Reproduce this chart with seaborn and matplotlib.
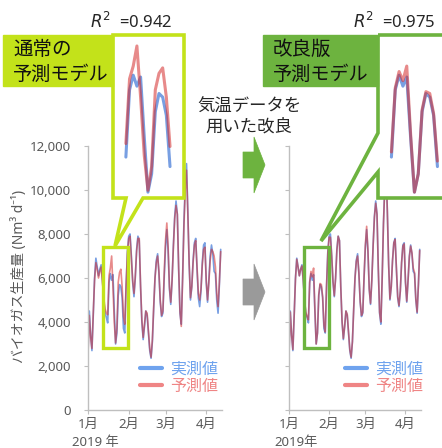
import matplotlib
matplotlib.use("Agg")
import matplotlib.pyplot as plt
from matplotlib.patches import Polygon, Rectangle
from matplotlib.lines import Line2D
import pandas as pd
import seaborn as sns

# ---- data: daily biogas production, 2019-01-01 .. 2019-04-12 (Nm3/d) ----
days = list(range(102))
measured = [
    2600, 4500, 3400, 2700, 4300, 6000, 6900, 6500, 6100, 6400,
    6600, 5900, 5000, 4400, 4200, 3960, 5800, 6200, 5900, 6150,
    4500, 3000, 3500, 5200, 5700, 5600, 5100, 3700, 3500, 5600,
    7200, 7900, 8000, 7000, 5800, 5150, 6000, 7300, 7900, 7700,
    5600, 4000, 3200, 3800, 4500, 4300, 3500, 2700, 2350, 3100,
    4600, 6000, 6800, 7100, 6200, 4900, 4250, 4400, 6000, 7400,
    8200, 7200, 5500, 4800, 5900, 7500, 8800, 9500, 8900, 6400,
    4400, 3900, 6000, 8500, 10200, 11200, 9000, 6600, 5000, 5600,
    6800, 7600, 7800, 6400, 5100, 4700, 5400, 6700, 7500, 7600,
    5800, 4900, 5900, 7000, 7500, 7100, 6300, 6200, 5000, 4400,
    5700, 7300,
]
pred_standard = [
    2500, 4300, 3300, 2800, 4400, 5900, 6700, 6400, 6000, 6300,
    6500, 5800, 5100, 4600, 4400, 4330, 6100, 6450, 7000, 5600,
    4000, 3050, 3700, 5800, 6250, 6400, 5600, 4250, 3900, 5700,
    7100, 7800, 7900, 6900, 5900, 5300, 6100, 7200, 7800, 7800,
    5700, 4100, 3300, 3900, 4500, 4400, 3600, 2800, 2400, 3200,
    4700, 6000, 6700, 7000, 6300, 5000, 4300, 4500, 6200, 7700,
    8500, 7400, 5600, 4900, 5900, 7400, 8700, 9300, 8900, 6500,
    4500, 3800, 5900, 8300, 10000, 10900, 8900, 6700, 5100, 5600,
    6700, 7500, 7700, 6500, 5300, 5000, 5500, 6600, 7300, 7400,
    5900, 5000, 5800, 6800, 7300, 7200, 7000, 6500, 5300, 4700,
    5800, 7200,
]
pred_improved = [
    2550, 4450, 3400, 2750, 4300, 5950, 6850, 6500, 6100, 6400,
    6550, 5900, 5000, 4450, 4250, 4100, 5850, 6300, 6050, 6450,
    4600, 3000, 3500, 5250, 5750, 5700, 5150, 3850, 3550, 5600,
    7150, 7850, 7850, 7000, 5850, 5200, 6000, 7250, 7900, 7700,
    5600, 4050, 3250, 3800, 4500, 4350, 3550, 2750, 2400, 3100,
    4600, 6000, 6750, 7000, 6250, 4950, 4300, 4450, 6050, 7500,
    8350, 7250, 5500, 4850, 5900, 7450, 8750, 9400, 8900, 6450,
    4450, 4000, 6000, 8450, 10100, 11000, 9000, 6600, 5050, 5600,
    6800, 7600, 7750, 6450, 5150, 4750, 5400, 6700, 7450, 7550,
    5850, 4950, 5900, 6950, 7450, 7150, 6450, 6250, 5050, 4450,
    5700, 7250,
]
r2_labels = ["0.942", "0.975"]
model_names = [("通常の", "予測モデル"), ("改良版", "予測モデル")]
series_labels = ["実測値", "予測値"]
y_ticks = [0, 2000, 4000, 6000, 8000, 10000, 12000]
y_tick_labels = ["0", "2,000", "4,000", "6,000", "8,000", "10,000", "12,000"]
month_ticks = [0, 31, 59, 90]
month_labels = ["1月", "2月", "3月", "4月"]
year_labels = ["2019 年", "2019年"]
y_label = "バイオガス生産量 (Nm³ d⁻¹)"
middle_note = ("気温データを", "用いた改良")
zoom_first, zoom_last = 15, 27          # days drawn in the enlarged view
zoom_x = (11.5, 30.8)                   # enlarged window, days
zoom_y = (2840, 7300)                   # enlarged window, Nm3/d

df = pd.DataFrame({"day": days, "measured": measured,
                   "standard": pred_standard, "improved": pred_improved})
df_zoom = df[(df["day"] >= zoom_first) & (df["day"] <= zoom_last)]

# ---- style ----
sns.set_theme(style="ticks")
plt.rcParams["font.family"] = ["Noto Sans", "Noto Sans CJK JP", "DejaVu Sans"]

BLUE = "#1f5fd0"
RED = "#d42a2a"
BLUE_KEY = "#6fa3ee"
RED_KEY = "#ef8585"
LIME = "#c3e21a"
GREEN = "#6db33f"
AXIS_GREY = "#bfbfbf"
TEXT_GREY = "#595959"

W, H = 442, 448
fig = plt.figure(figsize=(W / 100, H / 100), dpi=100)
fig.patch.set_facecolor("white")


def fx(px):
    return px / W


def fy(py):
    return 1 - py / H


def box(x0, y0, x1, y1):
    return [fx(x0), fy(y1), (x1 - x0) / W, (y1 - y0) / H]


def fig_pts(points):
    return [(fx(x), fy(y)) for x, y in points]


def draw_main(ax, pred_col, edge, show_ylabels, year_text, year_x):
    sns.lineplot(data=df, x="day", y="measured", ax=ax, color=BLUE,
                 alpha=0.6, lw=1.2)
    sns.lineplot(data=df, x="day", y=pred_col, ax=ax, color=RED,
                 alpha=0.55, lw=1.2)
    ax.set_xlim(0, 102)
    ax.set_ylim(0, 12000)
    ax.set_xlabel("")
    ax.set_ylabel("")
    ax.set_facecolor("white")
    for side in ("top", "right"):
        ax.spines[side].set_visible(False)
    for side in ("left", "bottom"):
        ax.spines[side].set_color(AXIS_GREY)
        ax.spines[side].set_linewidth(1.0)
    ax.set_yticks(y_ticks)
    ax.set_yticklabels(y_tick_labels if show_ylabels else [])
    ax.set_xticks(month_ticks)
    ax.set_xticklabels(month_labels)
    ax.tick_params(axis="both", direction="out", length=3, width=0.8,
                   color=AXIS_GREY, labelcolor=TEXT_GREY, labelsize=9.5)
    ax.tick_params(axis="y", pad=9)
    ax.tick_params(axis="x", pad=3)
    ax.add_patch(Rectangle((zoom_x[0], zoom_y[0]), zoom_x[1] - zoom_x[0],
                           7400 - zoom_y[0], fill=False, ec=edge, lw=2.4,
                           zorder=5, clip_on=False))
    handles = [Line2D([], [], color=BLUE_KEY, lw=3),
               Line2D([], [], color=RED_KEY, lw=3)]
    ax.legend(handles, series_labels, loc="upper left",
              bbox_to_anchor=(fx(year_x[1]), fy(362)),
              bbox_transform=fig.transFigure, frameon=False,
              fontsize=11.5, handlelength=1.4, handletextpad=0.5,
              labelspacing=0.05, borderpad=0, borderaxespad=0,
              labelcolor=[BLUE_KEY, RED_KEY])
    fig.text(fx(year_x[0]), fy(442), year_text, ha="left", va="center",
             fontsize=9.5, color=TEXT_GREY)


def draw_zoom(rect_px, pred_col):
    ax = fig.add_axes(box(*rect_px))
    ax.set_zorder(3)
    ax.set_facecolor("white")
    sns.lineplot(data=df_zoom, x="day", y="measured", ax=ax, color=BLUE,
                 alpha=0.6, lw=2.2)
    sns.lineplot(data=df_zoom, x="day", y=pred_col, ax=ax, color=RED,
                 alpha=0.55, lw=2.2)
    ax.set_xlim(*zoom_x)
    ax.set_ylim(*zoom_y)
    ax.set_xticks([])
    ax.set_yticks([])
    ax.set_xlabel("")
    ax.set_ylabel("")
    for s in ax.spines.values():
        s.set_visible(False)
    return ax


ax_l = fig.add_axes(box(88, 146, 222, 410))
ax_r = fig.add_axes(box(289, 146, 421, 410))
draw_main(ax_l, "standard", LIME, True, year_labels[0], (72, 140))
draw_main(ax_r, "improved", GREEN, False, year_labels[1], (274, 345))

draw_zoom((113, 35, 184, 198), "standard")
draw_zoom((378, 35, 452, 198), "improved")

# callout frames with their pointers
left_frame = [(113, 35), (184, 35), (184, 198), (143, 198), (115, 246),
              (126, 198), (113, 198)]
right_frame = [(378, 35), (452, 35), (452, 198), (378, 198), (378, 172),
               (321, 241), (378, 133)]
for pts, col in ((left_frame, LIME), (right_frame, GREEN)):
    fig.add_artist(Polygon(fig_pts(pts), closed=True, fill=False, ec=col,
                           lw=2.6, joinstyle="miter", zorder=6,
                           transform=fig.transFigure))

# model name tags
for (x0, x1), col, names in (((3, 113), LIME, model_names[0]),
                             ((263, 378), GREEN, model_names[1])):
    fig.add_artist(Rectangle((fx(x0), fy(86)), (x1 - x0) / W, 51 / H,
                             fc=col, ec=col, lw=1, zorder=7,
                             transform=fig.transFigure))
    fig.text(fx(x0 + 10), fy(50), names[0], ha="left", va="center",
             fontsize=14, color="#111111", zorder=8)
    fig.text(fx(x0 + 10), fy(75), names[1], ha="left", va="center",
             fontsize=13.8, color="#111111", zorder=8)

# R^2 values
for x0, val in ((90, r2_labels[0]), (353, r2_labels[1])):
    fig.text(fx(x0), fy(22), r"$R^2$  =" + val, ha="left", va="center",
             fontsize=12, color="#262626")

# note and arrows between the panels
fig.text(fx(249), fy(107), middle_note[0], ha="center", va="center",
         fontsize=12.5, color="#262626")
fig.text(fx(249), fy(127), middle_note[1], ha="center", va="center",
         fontsize=12.5, color="#262626")


def block_arrow(cy, col):
    pts = [(243, cy - 13), (254, cy - 13), (254, cy - 28), (265, cy),
           (254, cy + 28), (254, cy + 13), (243, cy + 13)]
    fig.add_artist(Polygon(fig_pts(pts), closed=True, fc=col, ec=col,
                           lw=0.5, zorder=4, transform=fig.transFigure))


block_arrow(165, GREEN)
block_arrow(292, "#9a9a9a")

fig.text(fx(19), fy(276), y_label, rotation=90, ha="center", va="center",
         fontsize=10, color=TEXT_GREY)

fig.savefig("out.png", dpi=100, facecolor="white")
